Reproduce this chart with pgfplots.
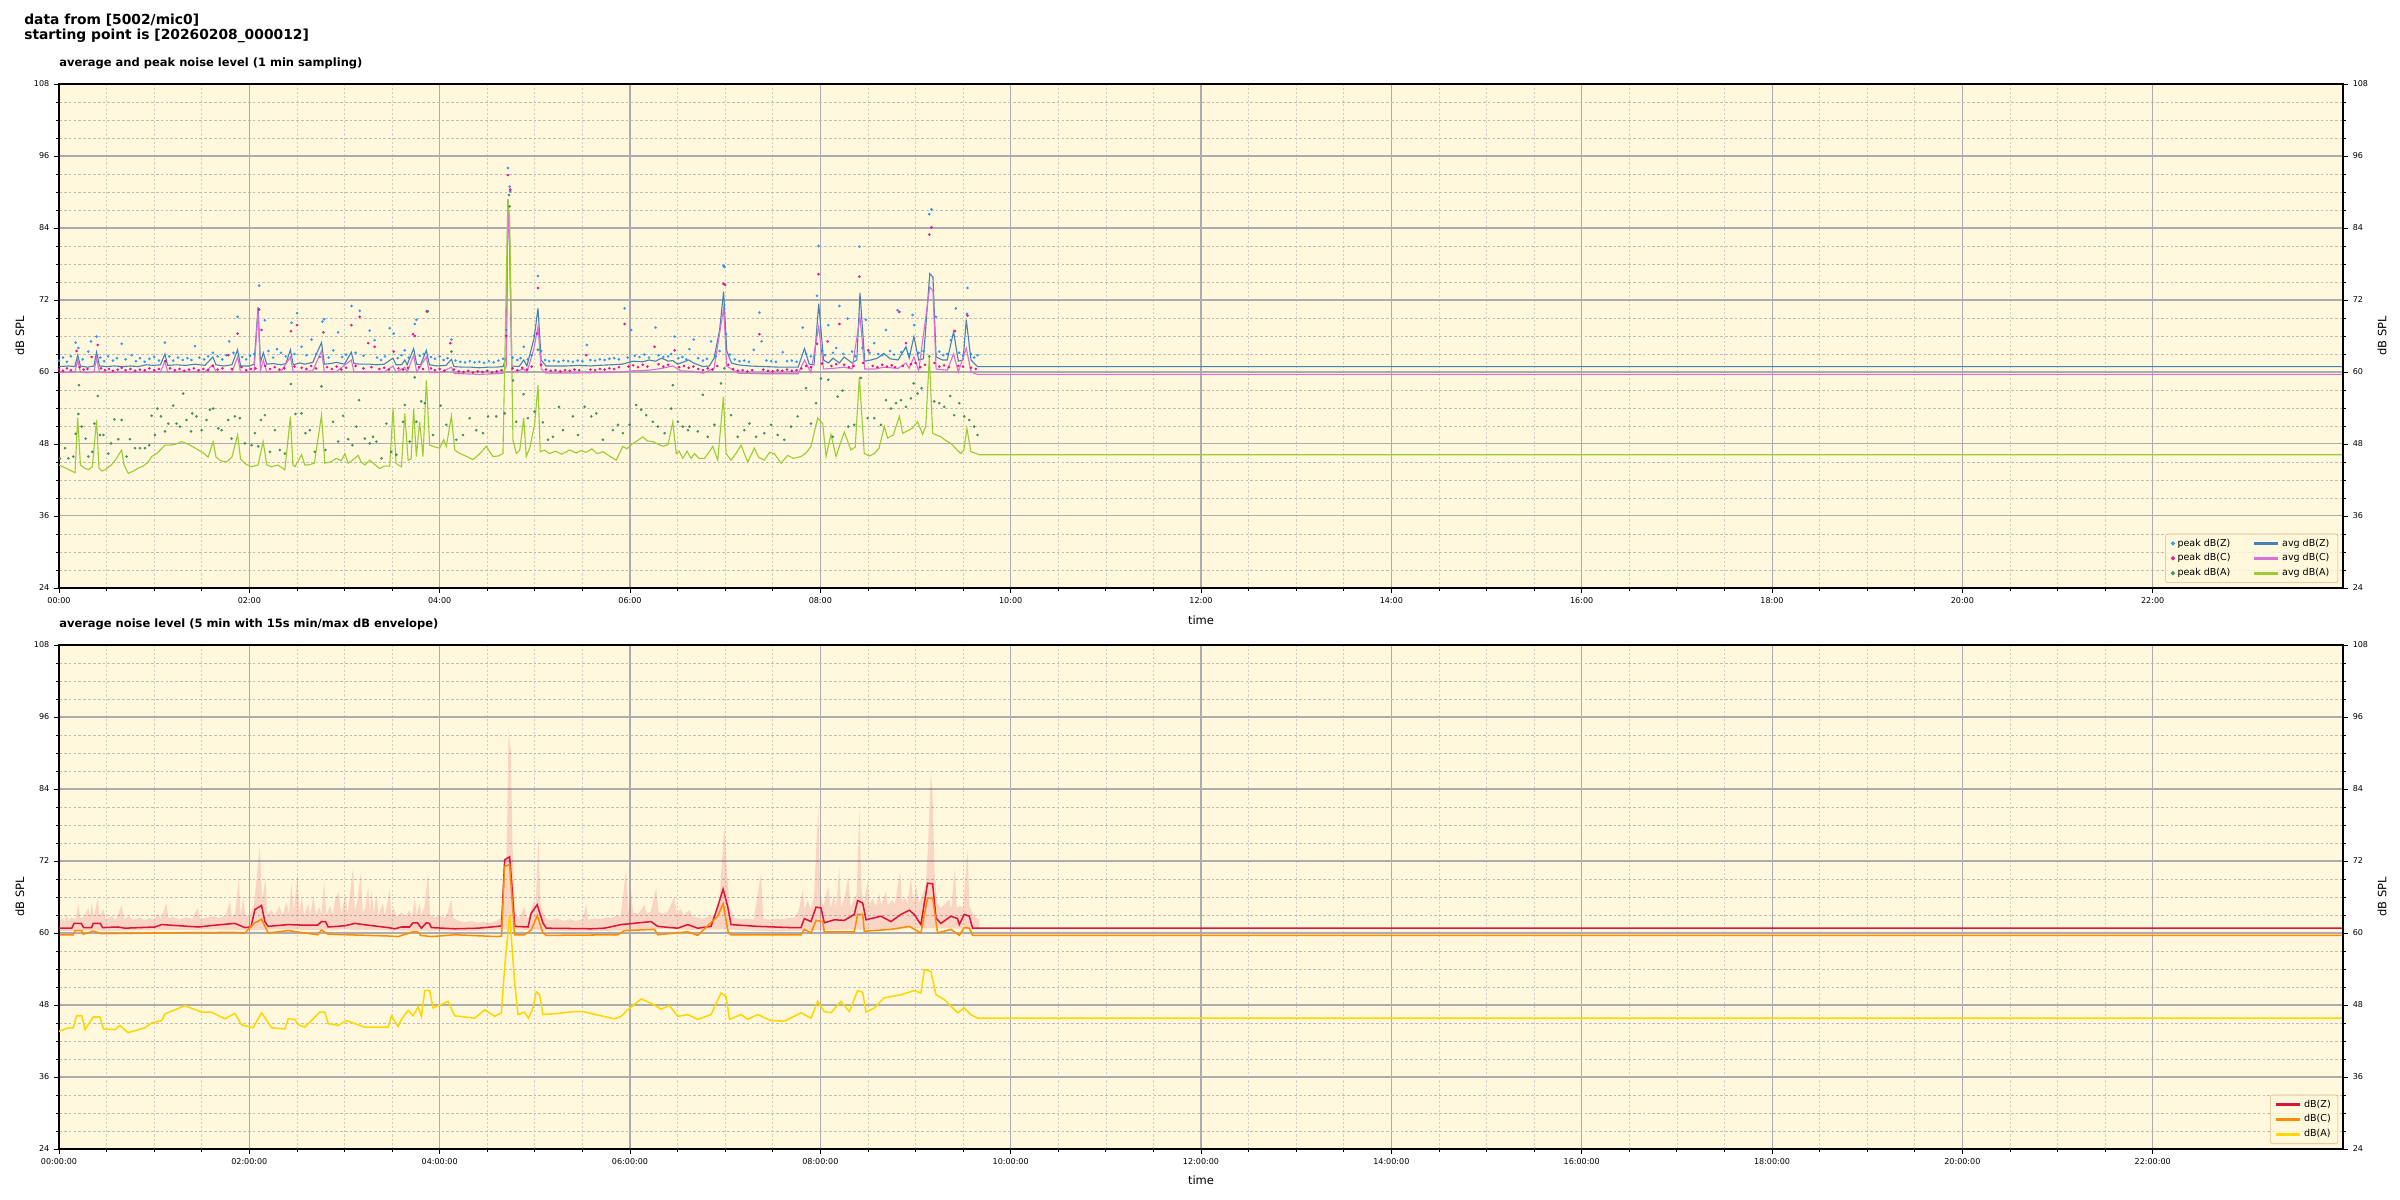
\documentclass[border=0pt]{standalone}
\usepackage{fontspec}
\setmainfont{DejaVu Sans}
\usepackage{pgfplots}
\pgfplotsset{compat=1.18}
\definecolor{cornsilk}{RGB}{255,248,220}
\definecolor{dodgerblue}{RGB}{30,144,255}
\definecolor{seagreen}{RGB}{46,139,87}
\definecolor{steelblue}{RGB}{70,130,180}
\definecolor{orchid}{RGB}{218,112,214}
\definecolor{yellowgreen}{RGB}{154,205,50}
\definecolor{crimson}{RGB}{220,20,60}
\definecolor{darkorange}{RGB}{255,140,0}
\definecolor{gold}{RGB}{255,215,0}
\definecolor{legedge}{RGB}{222,184,135}
\definecolor{gridmaj}{RGB}{172,172,176}
\definecolor{gridminy}{RGB}{188,188,188}
\definecolor{gridminx}{RGB}{208,206,196}
\pgfplotsset{
  base/.style={
    width=22.84in, height=5.04in, scale only axis,
    xmin=0, xmax=1440, ymin=24, ymax=108,
    xtick={0,120,...,1320},
    ytick={24,36,...,108},
    minor x tick num=3, minor y tick num=3,
    tick align=outside,
    major tick length=3.5pt, minor tick length=2pt,
    every tick/.style={black, line width=0.6pt},
    tick label style={font=\fontsize{5.8}{7}\selectfont},
    /pgf/number format/assume math mode=true,
    axis line style={line width=0.9pt},
    clip=true,
  },
  main/.style={base,
    xtick pos=left, ytick pos=left,
    axis background/.style={fill=cornsilk},
    grid=both,
    major grid style={color=gridmaj, line width=0.75pt, solid},
    minor x grid style={color=gridminx, line width=0.5pt, dash pattern=on 1.5pt off 1.5pt},
    minor y grid style={color=gridminy, line width=0.5pt, dash pattern=on 2pt off 1.5pt},
    ylabel={dB SPL}, xlabel={time},
    label style={font=\fontsize{8.3}{10}\selectfont},
    ylabel style={at={(axis description cs:-0.0171,0.5)}, anchor=center, rotate=0},
    title style={at={(axis description cs:0,1)}, anchor=base west, inner sep=0pt, yshift=6.8pt, font=\bfseries\fontsize{8.3}{10}\selectfont},
    legend cell align=left,
  },
  rightax/.style={base,
    axis y line*=right, hide x axis,
    ylabel={dB SPL},
    label style={font=\fontsize{8.3}{10}\selectfont},
    ylabel style={at={(axis description cs:1.0171,0.5)}, anchor=center},
  },
}
\begin{document}
\begin{tikzpicture}
\path[use as bounding box] (0,0) rectangle (24in,12in);
\node[anchor=base west, inner sep=0pt, font=\bfseries\fontsize{10}{12}\selectfont] at (0.24in,11.755in) {data from [5002/mic0]};
\node[anchor=base west, inner sep=0pt, font=\bfseries\fontsize{10}{12}\selectfont] at (0.24in,11.60in) {starting point is [20260208\_000012]};

% ---------------- TOP PANEL ----------------
\begin{axis}[main, at={(0.59in,11.16in)}, anchor=north west,
  title={average and peak noise level (1 min sampling)},
  xticklabels={00:00,02:00,04:00,06:00,08:00,10:00,12:00,14:00,16:00,18:00,20:00,22:00},
  xlabel style={at={(axis description cs:0.5,-0.0635)}, anchor=center},
  legend columns=2,
  legend style={at={(1,0)}, anchor=south east, xshift=-3.6pt, yshift=3.6pt,
    draw=legedge, fill=cornsilk, fill opacity=0.8, draw opacity=1, text opacity=1,
    rounded corners=1.5pt, font=\fontsize{6.9}{7.6}\selectfont, inner xsep=4pt, inner ysep=1.5pt,
    /tikz/every even column/.append style={column sep=14pt}},
]
% peak dB(Z)
\addplot[only marks, mark=*, mark size=0.75pt, color=dodgerblue, mark options={fill opacity=0.85, draw opacity=0.85}, forget plot] coordinates {
(0,61.9)(2.5,62.4)(5,61.7)(7.5,62.6)(10.5,64.9)(12.2,64.0)(15,62.1)(18.5,63.4)(20.2,65.1)(23.7,65.9)(26,62.4)(28.5,61.8)(31,62.6)(34,61.9)(36.5,62.3)(39.5,64.7)(42,62.1)(45.8,62.8)(48.5,61.8)(51,62.3)(54,61.7)(57,62.2)(60,62.5)(63,61.9)(66.8,64.9)(69.5,62.6)(72,61.9)(75,62.4)(78,62.0)(81,62.3)(83.5,62.0)(85.7,64.3)(88.5,62.4)(91.5,62.1)(94,62.6)(97,63.2)(100,62.6)(103,62.1)(105.5,62.8)(107.3,65.1)(110,63.2)(112.6,69.2)(115.5,62.5)(118,62.1)(120.5,62.7)(123,63.0)(126.2,74.4)(129.8,68.6)(132,63.5)(135,62.4)(137.5,63.8)(140,63.2)(143,62.6)(146.6,68.2)(148.5,63.0)(150.1,69.8)(152.9,64.2)(156,62.8)(159.2,65.4)(162,63.0)(164.5,62.5)(166.1,68.4)(167.2,68.8)(170,62.4)(173,63.6)(176,66.6)(178.5,62.5)(181,62.9)(184.4,71.0)(187,63.2)(189.6,70.2)(192,62.7)(195.9,66.9)(199,65.3)(200.5,62.4)(203,62.0)(205.5,62.6)(208.5,67.3)(211,66.4)(213.5,62.3)(216,62.8)(218,63.6)(220.5,62.4)(224.3,68.0)(225.3,68.7)(227.5,62.7)(230,63.0)(232,70.1)(234.5,62.5)(237,62.2)(240,62.6)(242.5,62.0)(245,62.3)(247.4,65.4)(250,61.9)(253,61.7)(256,61.6)(259,61.8)(262,61.6)(265,61.7)(268,61.5)(271,61.8)(274,61.6)(277,61.9)(280,62.2)(282,67.0)(283,94.0)(284.1,90.9)(284.5,90.1)(286,62.4)(289,62.0)(291,62.3)(293,64.2)(295.5,62.1)(298,62.8)(299.5,66.0)(302,76.0)(304,63.5)(306.5,62.0)(309,61.8)(312,61.9)(315,61.7)(318,61.9)(321,61.8)(324,61.7)(327,61.9)(330,61.8)(332.8,64.5)(335,62.0)(338,61.9)(341,62.1)(344,62.0)(347,62.2)(350,62.3)(353,62.1)(356.6,70.6)(358.5,62.4)(360.8,67.0)(363,62.7)(366,62.5)(369,62.9)(372,62.4)(376.1,67.4)(378,62.8)(381,62.5)(384,62.6)(386,63.0)(388.1,65.9)(390.5,62.3)(393,62.5)(395.5,62.1)(397.5,63.8)(400.2,65.4)(403,62.3)(406,61.9)(408.5,62.2)(411.1,65.1)(414,62.6)(416.5,63.5)(418.9,77.7)(419.5,77.5)(420.6,66.3)(423,62.9)(426,62.1)(429,61.8)(432,61.9)(435,61.7)(438,63.7)(441.6,69.9)(443,65.1)(446,61.9)(449,61.8)(452,61.7)(456.3,63.3)(459,61.8)(462,61.9)(465,61.7)(468.9,67.4)(471,63.0)(474,62.6)(477.9,72.7)(478.9,81.0)(481,63.5)(483,62.8)(485,67.8)(488,63.2)(490,64.0)(492,71.0)(494.5,63.0)(497.2,68.9)(500,63.4)(502,62.6)(504.6,80.9)(506.5,64.0)(508.7,68.7)(511,63.2)(514,64.8)(516.5,63.0)(519,62.8)(521.3,67.0)(524,63.5)(526.5,62.9)(528.7,70.3)(531,63.3)(534,64.0)(536,63.0)(538.2,69.5)(539.2,67.8)(542,63.2)(545,63.5)(548.7,86.3)(550.1,87.1)(552.9,69.2)(555,63.4)(557.5,62.8)(560,63.0)(562.3,65.3)(565.4,70.6)(567.5,63.2)(570,62.7)(572.4,69.7)(572.8,74.0)(575,63.0)(577,62.4)(579.1,62.8)
};
% peak dB(C)
\addplot[only marks, mark=*, mark size=0.75pt, color=magenta, mark options={fill opacity=0.85, draw opacity=0.85}, forget plot] coordinates {
(0,60.4)(2.5,60.2)(5,60.6)(7.5,60.3)(11.1,63.5)(13,60.8)(15.5,60.4)(18,60.5)(20.6,62.5)(24.4,64.5)(26.5,60.6)(29,60.3)(31.5,60.5)(34,60.2)(37,60.4)(39.5,60.7)(42,60.3)(45,60.5)(48,60.2)(51,60.4)(54,60.3)(57,60.6)(60,60.3)(63,60.5)(67,61.8)(70,60.6)(73,60.3)(76,60.5)(79,60.2)(82,60.4)(85,60.6)(88,60.3)(91,60.5)(94,60.3)(97,61.0)(100,60.4)(103,60.6)(106.7,62.8)(109,60.5)(112.6,66.4)(115,60.8)(118,60.3)(121,60.5)(124,60.6)(126.2,70.4)(127.7,67.0)(130,61.0)(133,60.5)(136,60.8)(139,60.4)(142,60.6)(146.2,66.8)(148.5,60.9)(150.1,67.8)(153,60.7)(156,60.5)(159,61.0)(162,60.6)(166.7,66.6)(169,60.8)(172,60.5)(175,60.9)(178,60.4)(181,60.7)(184.4,67.8)(187,61.0)(189.6,69.2)(192,60.6)(194.9,64.8)(197,60.8)(199,64.2)(202,60.5)(205,60.7)(208,60.4)(211,63.4)(214,60.6)(217,60.4)(220,60.7)(223.2,66.3)(224.3,66.0)(227,60.8)(229.5,60.5)(232,70.1)(234.5,60.6)(237,60.3)(240,60.5)(243,60.2)(246.7,64.8)(249,60.4)(252,60.1)(255,60.0)(258,60.2)(261,59.9)(264,60.1)(267,60.0)(270,60.2)(273,59.9)(276,60.1)(279,60.3)(282,66.0)(283,92.8)(284.5,90.4)(286,60.6)(289,60.3)(292,60.7)(295,60.4)(298,60.9)(301.3,66.4)(302,74.0)(304,61.2)(307,60.4)(310,60.2)(313,60.3)(316,60.1)(319,60.3)(322,60.2)(325,60.4)(328,60.3)(332.4,62.8)(335,60.4)(338,60.3)(341,60.5)(344,60.4)(347,60.6)(350,60.5)(353,60.8)(356.6,68.0)(359,60.9)(362,61.1)(365,60.8)(368,61.2)(371,60.9)(375.5,64.2)(378,61.3)(381,60.9)(384,61.2)(388.1,63.6)(391,60.8)(394,61.0)(397,60.7)(400,60.9)(403,60.5)(406,60.3)(409,60.6)(412,60.4)(415,61.0)(418.9,74.7)(420,74.5)(422,61.2)(425,60.5)(428,60.2)(431,60.3)(434,60.1)(437,60.3)(441.6,66.3)(444,60.4)(447,60.2)(450,60.1)(453,60.3)(456,60.2)(459,60.4)(462,60.2)(465,60.3)(468,60.6)(471,61.0)(474,60.8)(477.9,64.7)(478.9,76.3)(481,61.4)(484.6,65.1)(487,61.0)(490,61.3)(492,68.0)(495,61.2)(498,60.8)(501,61.0)(504.6,75.9)(507,61.5)(510.2,63.6)(513,61.0)(516,60.8)(519,61.2)(522,60.9)(525,61.1)(527,60.8)(529.8,70.0)(532,61.0)(534,64.8)(537,61.3)(540,61.5)(543,60.8)(546,61.2)(548.7,82.9)(550.1,84.1)(552,61.5)(555,60.9)(558,61.1)(561,60.8)(564.9,66.8)(567,61.0)(570,60.9)(572.8,69.4)(575,60.7)(578,60.5)
};
% peak dB(A)
\addplot[only marks, mark=*, mark size=0.75pt, color=seagreen, mark options={fill opacity=0.85, draw opacity=0.85}, forget plot] coordinates {
(0.6,45.6)(3.8,47.3)(5.9,45.6)(9,45.9)(10.5,49.7)(12.2,53.0)(12.6,57.8)(14.3,50.9)(16.8,48.9)(18.5,45.9)(21,46.7)(22.3,51.4)(24.4,56.0)(25.8,49.5)(28,49.5)(31.1,46.4)(32.8,48.1)(34.9,52.1)(37.4,48.8)(39.5,52.0)(42.6,45.9)(44.7,48.8)(47.9,47.3)(51,47.3)(54.2,47.3)(56.9,47.8)(58.4,52.7)(60.5,49.5)(62,53.9)(64.3,52.6)(66.8,50.1)(68.9,51.4)(72,54.4)(74.1,51.4)(76.2,50.9)(78.3,56.4)(80.4,52.0)(83.2,50.1)(84,53.1)(86.7,52.6)(89.9,50.3)(93,52.0)(95.1,53.7)(97.2,53.9)(100.4,50.6)(102.5,50.3)(106.7,52.0)(108.8,48.9)(110.9,52.6)(114,52.3)(117.2,48.1)(121.4,47.8)(123.5,49.8)(125.6,47.6)(127.3,52.0)(129.8,52.8)(133,46.7)(136.1,50.3)(139.2,47.0)(142.4,46.4)(146.2,58.0)(149.1,53.0)(152.9,53.1)(155.4,49.8)(158.1,50.3)(161.3,46.7)(165.5,57.6)(168,47.0)(172.8,51.7)(176,48.4)(179.1,52.7)(182.3,48.8)(185,47.8)(187.5,50.9)(189.2,55.3)(192.8,48.9)(195.9,48.1)
(198,49.2)(200.1,48.4)(203.3,45.6)(206.4,51.4)(209.5,46.7)(212.7,46.2)(216.9,51.7)(218,54.5)(221.1,48.4)(224.3,59.1)(225.3,51.7)(228.4,55.1)(230.6,54.8)(232.6,70.1)(235.8,49.5)(240.6,54.4)(244.2,51.2)(247.4,63.4)(250.5,48.7)(254.7,49.5)(258.9,52.3)(263.1,50.3)(267.3,49.8)(270.5,52.6)(275.7,52.6)(281,53.1)(283.7,89.5)(284.1,87.6)(286.2,58.6)(288.3,51.7)(292.9,56.3)(295.6,52.3)(299.8,53.4)(301.9,63.7)(305.1,51.6)(308.3,48.7)(311.4,49.2)(315.2,54.2)(317.7,50.3)(324,52.6)(327.2,49.5)(331.4,54.2)(335.6,52.6)(338.7,53.1)(342.9,48.7)(349.2,50.3)(352.4,51.2)(355.5,49.8)(359.7,51.2)(363.9,54.5)(367,53.7)(370.2,52.8)(374.4,51.7)(377.6,50.9)(381.8,49.8)(386,53.9)(387,57.8)(390.2,51.7)(393.3,50.9)(396.5,50.3)
(397.5,50.9)(402.7,50.1)(405.9,56.2)(409,49.2)(413.2,51.2)(417.4,58.1)(419.5,60.6)(423.7,52.8)(427.9,49.2)(432.1,50.3)(435.3,51.4)(439.5,49.2)(444.7,49.8)(448.9,51.2)(453.1,49.5)(457.3,48.7)(461.5,50.9)(465.7,52.6)(471,57.3)(474.1,51.4)(477.3,54.8)(480.4,58.9)(485,58.7)(487.8,49.2)(490.9,55.9)(494,56.9)(497.6,50.9)(501.4,51.2)(505.6,59.0)(509.8,52.3)(514,52.3)(518.2,51.2)(521.4,55.3)(524.5,53.9)(527.7,54.8)(530.8,55.3)(534,54.2)(537.1,55.6)(538.8,58.1)(541.3,56.4)(543.8,57.3)(548.7,62.6)(551.8,55.1)(555,54.8)(558.1,54.2)(561.9,56.0)(564.4,52.8)(567.6,54.8)(570.7,52.6)(573.9,52.0)(577,50.9)(579.1,49.5)
};
% avg dB(Z)
\addplot[color=steelblue, line width=0.8pt, forget plot] coordinates {
(0,60.9)(6,61.0)(10,60.9)(11.8,62.8)(13.5,61.0)(18,60.8)(22,61.0)(23.7,63.3)(25.5,61.0)(30,60.9)(35,61.0)(40,60.9)(45,61.0)(50,60.9)(55,61.2)(60,61.1)(64,61.2)(66.8,63.0)(68.5,61.1)(74,61.2)(80,61.1)(86,61.3)(92,61.1)(97,62.5)(99,61.2)(104,61.0)(109,61.2)(112.6,63.7)(114.5,61.0)(120,61.0)(123,61.3)(125.5,70.8)(127,61.6)(128.8,63.2)(131,61.3)(135,61.4)(140,61.2)(143,61.4)(145.9,63.7)(147.7,61.2)(152,61.5)(155,61.3)(160,61.6)(165.5,64.9)(167.3,61.3)(171,61.4)(175,61.6)(180,61.3)(184.3,63.3)(186,61.4)(190,61.3)(196,61.3)(200,61.2)(205,61.3)(210.6,62.3)(212.5,61.2)(216,61.2)(218,62.0)(219.5,61.2)(223.6,63.9)(225.5,61.3)(228,61.2)(231.6,63.6)(233.5,61.2)(238,61.0)(244,61.1)(247.4,62.1)(249,60.9)(255,60.8)(260,60.8)(265,60.7)(270,60.8)(275,60.8)(280,60.9)(282,62.5)(283,88.8)(284.1,82.0)(285.5,61.0)(290,60.9)(293,62.0)(295,61.0)(299.5,65.6)(302,70.6)(304,62.0)(307,61.0)(312,61.0)(320,61.0)(328,61.1)(335,61.0)(340,61.1)(348,61.2)(355,61.3)(362,61.8)(368,61.7)(372,62.0)(376,61.8)(380,62.3)(384,61.8)(387,61.9)(390,61.3)(394,61.7)(397,62.0)(400,61.5)(406,60.9)(410,61.0)(413,62.3)(416.5,67.0)(419,73.4)(421,63.5)(424,61.5)(428,61.2)(435,61.0)(445,60.9)(455,60.8)(466,60.8)(470,63.9)(473,61.3)(476,61.2)(479,71.4)(482,62.0)(485,61.5)(488,62.3)(492,61.5)(495,62.5)(500,61.5)(503,62.0)(505,73.2)(508,61.8)(512,62.0)(516,62.3)(520,63.1)(524,62.2)(529,62.0)(534,64.2)(536,62.3)(539,65.9)(542,62.0)(545,62.2)(549,76.4)(551,75.8)(553,62.5)(557,62.0)(560,62.0)(564,66.7)(567,61.8)(570,62.0)(572,68.7)(575,62.0)(579,60.9)(1440,60.9)
};
% avg dB(C)
\addplot[color=orchid, line width=0.8pt, forget plot] coordinates {
(0,59.9)(6,60.0)(10,60.0)(11.8,62.0)(13.5,60.0)(18,59.9)(22,60.0)(23.7,62.3)(25.5,60.0)(30,59.9)(40,60.0)(45,59.9)(55,60.0)(64,60.0)(66.8,61.8)(68.5,60.0)(80,60.1)(92,60.0)(97,61.2)(99,60.0)(109,60.0)(112.6,62.5)(114.5,59.9)(120,60.0)(123,60.1)(125.5,70.3)(127,60.2)(128.8,62.0)(131,60.0)(140,60.1)(145.9,62.5)(147.7,60.0)(155,60.1)(160,60.2)(165.5,63.5)(167.3,60.0)(175,60.1)(184.3,62.0)(186,60.0)(196,60.0)(205,60.0)(210.6,61.0)(212.5,59.9)(218,60.8)(219.5,60.0)(223.6,62.8)(225.5,60.0)(231.6,62.5)(233.5,59.9)(240,59.9)(247.4,60.8)(249,59.8)(255,59.7)(265,59.6)(275,59.7)(280,59.8)(282,61.0)(283,88.1)(284.1,81.0)(285.5,59.9)(293,60.5)(295,59.9)(299.5,64.0)(302,67.6)(304,60.5)(307,59.8)(320,59.8)(340,59.9)(355,60.0)(362,60.2)(372,60.3)(380,60.6)(387,61.0)(392,60.2)(400,60.1)(406,59.8)(413,60.6)(419,70.6)(421,61.0)(428,59.8)(445,59.7)(466,59.7)(470,62.0)(474,59.9)(479,67.6)(482,60.5)(488,60.6)(495,60.8)(500,60.5)(505,69.2)(508,60.5)(515,60.5)(520,60.8)(529,60.6)(534,61.5)(536,60.6)(539,62.5)(542,60.2)(549,74.2)(551,73.5)(553,60.5)(560,60.3)(564,63.0)(567,60.0)(572,64.0)(575,60.0)(579,59.6)(1440,59.6)
};
% avg dB(A)
\addplot[color=yellowgreen, line width=0.8pt, forget plot] coordinates {
(0,44.5)(4,44.0)(8,43.5)(10.1,43.2)(11.8,52.4)(13.5,44.5)(16,44.0)(18.5,43.7)(21,44.2)(23.7,52.0)(25.2,44.0)(27,43.5)(29,43.7)(33,44.5)(36,45.5)(39.5,47.0)(41,44.5)(43.7,43.1)(47,43.5)(50,44.0)(53,44.3)(56.3,45.0)(58.4,45.9)(62,46.5)(66.8,47.8)(70,47.8)(74,48.0)(77.3,48.4)(81,48.0)(84,47.6)(87.8,47.0)(91,46.5)(94,45.8)(97.2,48.4)(99,45.8)(102,45.2)(105.6,45.0)(109,45.8)(112.6,49.5)(114.5,45.5)(118,44.6)(121.3,44.2)(125.5,44.5)(128.7,48.4)(131,44.5)(134,44.2)(138,44.5)(142.4,43.7)(145.9,52.6)(147.5,44.5)(148.7,44.2)(150.5,45.0)(152.9,46.2)(155,44.5)(157.1,44.5)(161,44.8)(165.5,52.8)(167.6,44.8)(171,45.0)(175,45.6)(178,45.2)(180.2,46.4)(182.3,44.8)(185,45.3)(188.6,46.1)(190.5,45.0)(192.8,44.5)(195.9,45.3)(199,44.6)(202.2,43.9)(205,44.3)(208.5,44.3)(210.6,53.9)(212.5,44.8)(213.8,44.5)(215.9,44.2)(218,53.1)(220.1,45.3)(222,45.5)(223.6,53.8)(225.3,45.9)(227.4,51.7)(229.5,45.9)(231.6,58.6)(233.7,47.8)(237,47.5)(240,47.3)(242.5,48.7)(244.2,47.6)(247.4,52.7)(249.5,47.0)(252,46.5)(254.7,46.2)(258,45.8)(261,45.4)(265,46.3)(269.4,47.6)(273.6,45.9)(277,46.0)(279.9,46.4)(282,74.8)(283,88.7)(284.1,85.9)(286.2,48.7)(288.3,46.4)(290.5,47.0)(293,52.3)(294.6,45.9)(297,47.5)(299.9,51.4)(302,57.8)(303.4,46.7)(306,47.0)(309.3,46.4)(313,46.8)(317,46.3)(321.9,47.0)(326,46.5)(329,46.9)(332.4,46.6)(336,47.2)(339,46.4)(342.9,46.7)(347,46.0)(351.3,45.3)(355.5,47.6)(358,47.2)(361.8,48.1)(365,48.6)(368.1,49.2)(371,48.5)(374.4,48.4)(377.5,48.0)(380.7,47.6)(384,47.9)(387,51.7)(389.1,46.4)(391,46.8)(393.3,45.6)(396,46.8)(398.5,45.6)(400.6,46.4)(403.5,45.6)(406.9,45.6)(409.5,46.5)(412.2,47.6)(415.3,45.3)(418.9,55.9)(420.6,46.4)(423.7,45.3)(427,46.5)(430,47.8)(434.2,45.0)(438.4,47.3)(441,45.8)(444.7,45.3)(448,46.6)(451,46.4)(455.2,44.8)(459.4,46.1)(463,45.6)(467.8,45.9)(471,46.5)(474.1,47.6)(478.3,52.3)(481.5,51.4)(483.6,45.9)(486.7,49.6)(489.9,45.9)(492.5,48.0)(495.1,50.0)(499.3,47.0)(502,47.5)(504.6,59.2)(507.7,46.4)(511,46.0)(514,46.4)(517,47.3)(520.3,50.9)(522.4,49.0)(526,49.5)(529.8,52.6)(531.9,49.8)(535,50.2)(538,50.6)(541.3,51.7)(544.5,49.6)(546.5,51.0)(548.7,62.6)(550.8,49.8)(553,49.5)(556,49.2)(559,48.6)(562.3,48.1)(565.5,47.2)(568.6,46.4)(570.5,47.0)(572.4,50.6)(574.9,46.7)(577.5,46.5)(580.2,46.2)(1440,46.2)
};
\addlegendimage{only marks, mark=*, mark size=1.3pt, color=dodgerblue}
\addlegendentry{peak dB(Z)}
\addlegendimage{color=steelblue, line width=2.2pt}
\addlegendentry{avg dB(Z)}
\addlegendimage{only marks, mark=*, mark size=1.3pt, color=magenta}
\addlegendentry{peak dB(C)}
\addlegendimage{color=orchid, line width=2.2pt}
\addlegendentry{avg dB(C)}
\addlegendimage{only marks, mark=*, mark size=1.3pt, color=seagreen}
\addlegendentry{peak dB(A)}
\addlegendimage{color=yellowgreen, line width=2.2pt}
\addlegendentry{avg dB(A)}
\end{axis}
\begin{axis}[rightax, at={(0.59in,11.16in)}, anchor=north west]
\addplot[draw=none, forget plot] coordinates {(0,60)};
\end{axis}

% ---------------- BOTTOM PANEL ----------------
\begin{axis}[main, at={(0.59in,5.55in)}, anchor=north west,
  title={average noise level (5 min with 15s min/max dB envelope)},
  xticklabels={00:00:00,02:00:00,04:00:00,06:00:00,08:00:00,10:00:00,12:00:00,14:00:00,16:00:00,18:00:00,20:00:00,22:00:00},
  xlabel style={at={(axis description cs:0.5,-0.061)}, anchor=center},
  legend style={at={(1,0)}, anchor=south east, xshift=-3.6pt, yshift=3.6pt,
    draw=legedge, fill=cornsilk, fill opacity=0.8, draw opacity=1, text opacity=1,
    rounded corners=1.5pt, font=\fontsize{6.9}{7.6}\selectfont, inner xsep=3pt, inner ysep=1.5pt},
]
% envelope (max forward, min backward)
\addplot[fill=crimson, fill opacity=0.15, draw=none, forget plot] coordinates {
(0,61.8)(2,62.5)(3.5,61.9)(4.8,63.0)(6,62.0)(8,62.6)(10.5,62.3)(12.2,64.9)(13.5,62.4)(16,62.8)(18.5,64.2)(19.5,62.6)(20.6,65.0)(22,62.5)(24.4,65.9)(25.5,62.6)(28,64.0)(29.5,62.3)(33,62.8)(36,62.2)(39.5,64.7)(41,62.3)(44,62.8)(47,62.2)(51,62.6)(54,62.1)(57,62.5)(60,62.3)(62.5,63.2)(64,62.4)(67.8,64.9)(69,62.5)(72,62.7)(76,62.2)(80,62.6)(84,62.4)(87.4,64.2)(89,62.4)(93,62.6)(97,62.8)(101,62.5)(105,62.9)(107.7,65.3)(109,62.7)(111,63.2)(113.4,69.2)(114.5,63.0)(116.1,65.8)(117.5,63.0)(120,62.8)(123,64.8)(126.6,74.4)(128,65.5)(130.2,68.9)(131.5,63.2)(134,63.8)(136,62.9)(139,64.5)(141,63.0)(143.5,65.2)(145,63.2)(146.6,68.3)(148,63.4)(150.4,69.9)(151.5,63.2)(153,66.0)(154.5,63.0)(157,64.8)(158.5,63.1)(160.5,66.2)(162,63.0)(164,64.3)(165.5,63.2)(167.2,68.7)(168.5,63.0)(171,64.5)(172.5,63.0)(174.5,66.0)(176.4,66.7)(178,63.1)(180.5,66.5)(182,63.2)(185.4,71.0)(186.5,63.5)(188,65.2)(190.3,70.1)(191.5,63.4)(193,64.0)(194.9,67.7)(196,63.5)(197,67.0)(198.5,63.3)(200.1,66.4)(201.5,63.0)(204.3,65.0)(205.5,62.8)(208.5,67.3)(209.5,63.0)(211,64.2)(213,62.7)(216,63.5)(218,62.6)(221,63.8)(222.5,62.8)(224.3,65.6)(225.5,63.0)(227.4,64.9)(228.5,63.0)(230.5,64.5)(232.7,70.3)(234,63.0)(237,62.6)(240,63.0)(243,62.5)(245,63.4)(247.4,65.6)(248.5,62.5)(252,62.0)(256,61.8)(260,62.0)(264,61.7)(268,61.9)(272,61.7)(276,62.0)(280,62.8)(282,70.0)(283.5,94.2)(284.2,91.5)(284.8,90.6)(286,74.0)(287.5,63.5)(290,62.4)(293.6,64.4)(295,62.3)(297,63.0)(299,65.2)(300.5,64.5)(302.3,76.1)(303.5,65.0)(305,63.5)(307,62.4)(310,62.1)(314,62.4)(318,62.0)(322,62.3)(326,62.0)(330,62.3)(332.4,64.7)(333.5,62.2)(337,62.4)(341,62.3)(345,62.6)(349,62.5)(352,63.0)(354,62.7)(357.6,70.6)(359,63.2)(360.7,66.9)(362,63.4)(365,63.2)(367,63.8)(369.1,64.7)(370.5,63.2)(373,63.5)(376.5,67.5)(378,63.5)(381,63.2)(384,63.6)(388,66.1)(389.5,63.2)(392,64.0)(394,63.0)(397.5,63.9)(399,62.8)(402,62.6)(406,62.4)(410,62.8)(414,63.0)(416.5,66.0)(419.5,77.8)(421,70.5)(423,64.0)(426,62.5)(430,62.3)(434,62.4)(438,62.2)(442.6,69.9)(444,62.4)(448,62.2)(452,62.4)(456,62.3)(460,62.5)(464,62.6)(466.5,63.8)(468.9,67.2)(470,64.0)(472,65.5)(474,64.0)(476,66.0)(478.7,81.1)(480,66.2)(482,64.5)(485,67.8)(486.5,64.0)(488.5,66.5)(490,64.2)(491.9,70.8)(493,64.3)(495,65.5)(497.6,69.4)(499,64.3)(501.5,65.8)(503,66.5)(504.6,80.7)(506,67.0)(507.5,65.0)(509.8,68.6)(511,64.8)(513,65.8)(515,64.5)(517,66.5)(518.5,64.6)(521.3,66.9)(522.5,64.5)(525,65.5)(527,64.8)(530.4,70.3)(531.5,65.0)(533,66.0)(535,64.8)(537.1,69.4)(538.5,65.0)(540.5,68.0)(542,65.0)(544,66.0)(546.5,68.0)(548,75.0)(549.7,87.1)(550.8,82.8)(552,70.0)(553.5,65.0)(556,64.2)(558.5,64.8)(561.2,65.6)(562.5,64.0)(564.8,70.8)(566,64.2)(568,64.5)(570,64.2)(572.8,73.9)(574,64.5)(576,63.3)(578,62.6)(580.2,62.2)
(580.2,60.6)(560,60.8)(540,60.8)(520,60.6)(500,60.6)(480,60.5)(460,60.3)(440,60.4)(420,60.6)(400,60.5)(380,60.7)(360,60.5)(340,60.3)(320,60.3)(300,60.5)(280,60.6)(260,60.3)(240,60.4)(220,60.4)(200,60.5)(180,60.6)(160,60.5)(140,60.6)(120,60.5)(100,60.6)(80,60.5)(60,60.5)(40,60.4)(20,60.4)(0,60.3)
};
% dB(Z)
\addplot[color=crimson, line width=1.1pt, forget plot] coordinates {
(0,60.8)(8,60.8)(9.5,61.6)(14,61.6)(15.5,60.9)(20.5,60.9)(21.6,61.6)(26,61.6)(27.5,60.9)(37,61.0)(41.6,60.8)(60.5,61.0)(64.7,61.4)(87.8,61.0)(98.3,61.3)(110.9,61.6)(117.2,60.9)(121,61.0)(123.5,63.9)(127.7,64.6)(129.8,61.9)(131.9,61.1)(144.5,61.4)(155,61.3)(163,61.3)(165.5,61.9)(168,61.9)(169.7,61.0)(180.2,61.2)(186.5,61.6)(194.9,61.3)(207.5,60.9)(211.7,60.7)(215.9,61.0)(221,61.0)(223.2,61.7)(226,61.7)(228.5,60.8)(231.6,61.7)(233.5,61.6)(234.8,60.9)(249.5,60.7)(264.2,60.8)(276.8,61.1)(279,61.2)(281,72.2)(284.1,72.7)(285.5,68.0)(287.3,61.1)(295.7,61.0)(297.7,63.3)(301.5,64.7)(303.5,63.0)(305.1,61.7)(307.2,60.8)(335.5,60.7)(343.9,60.8)(354.4,61.4)(373.3,61.9)(377.5,61.1)(390.1,60.8)(396.4,61.4)(402.7,60.8)(411.1,61.1)(415.3,64.4)(418.7,67.3)(421.6,64.4)(423.7,61.4)(440.5,61.1)(461.5,60.9)(467.8,60.9)(469.9,62.4)(474.1,61.9)(477.3,64.3)(480.4,64.2)(482.5,61.7)(488.8,62.2)(495.1,62.1)(501.4,63.1)(503.5,65.4)(506.7,65.0)(508.8,62.2)(518.2,62.8)(524.5,61.9)(530.8,63.1)(536.1,63.8)(539.2,63.1)(543.4,61.4)(547.6,68.3)(550.8,68.2)(552.9,62.5)(556,61.6)(562.3,62.8)(566.5,62.4)(567.6,61.4)(570.7,63.1)(573.9,62.8)(576,60.8)(1440,60.8)
};
% dB(C)
\addplot[color=darkorange, line width=1.1pt, forget plot] coordinates {
(0.6,59.7)(9,59.7)(10.1,60.4)(14.3,60.4)(15.3,59.8)(21.6,60.3)(26.9,59.9)(60,60.0)(110,60.1)(117.2,60.0)(123.5,61.7)(127.7,62.3)(131.9,60.0)(144.5,60.4)(163,59.7)(165.5,60.5)(169.7,59.8)(207.5,59.5)(213.8,59.4)(223.2,60.2)(226,60.2)(228,59.6)(234.8,59.4)(249.5,59.7)(276.8,59.4)(279,59.5)(281,71.1)(284.1,71.4)(285.5,66.0)(287.3,59.7)(293.5,59.7)(297.7,60.5)(301.5,62.9)(305.1,60.0)(307.2,59.6)(352.3,59.7)(356.5,60.4)(375.4,60.6)(377.5,59.7)(396.4,60.2)(402.7,59.6)(415.3,62.8)(418.7,64.9)(422,60.0)(423.7,59.7)(467.8,59.7)(469.9,60.6)(474.1,60.0)(477.3,62.1)(481.5,61.9)(482.5,60.2)(501.4,60.2)(503.5,63.1)(506.7,63.1)(507.7,60.3)(524.5,60.6)(536.1,61.1)(541.3,60.3)(543.4,60.0)(547.6,65.8)(550.8,65.8)(553.9,60.0)(562.3,60.6)(567.6,59.6)(570.7,60.9)(573.9,60.8)(576,59.6)(1440,59.6)
};
% dB(A)
\addplot[color=gold, line width=1.1pt, forget plot] coordinates {
(0,43.6)(5.9,44.2)(9,44.2)(11.1,46.2)(14.3,46.2)(16.4,43.9)(21.6,46.0)(25.8,46.0)(28,44.0)(35.3,43.9)(38.4,44.6)(42.6,43.6)(43.7,43.4)(54.2,44.2)(58.4,45.0)(64.7,45.4)(66.8,46.5)(73.1,47.2)(79.4,47.9)(89.9,46.8)(96.2,46.8)(104.6,45.7)(110.9,46.6)(115.1,44.7)(122.4,44.2)(127.7,46.7)(134,44.2)(142.4,44.0)(144.5,45.7)(148.7,45.6)(150.8,44.7)(155,44.3)(164.4,46.8)(167.6,46.8)(169.7,44.9)(176,44.6)(181.2,45.4)(186.5,44.9)(192.8,44.3)(207.5,44.3)(209.6,46.2)(213.8,44.4)(215.9,45.6)(220.1,47.1)(223.2,46.2)(226.4,47.7)(228.5,46.1)(230.6,50.4)(233.7,50.4)(235.8,47.5)(245.3,48.6)(249.5,46.2)(262.1,45.8)(268.4,47.2)(274.7,46.1)(278.9,46.7)(281,54.4)(284.1,63.1)(287.3,51.7)(289.4,46.4)(293.5,46.8)(296,45.8)(298.8,47.5)(300.9,50.2)(303,49.7)(305.1,46.4)(314.5,46.6)(325,46.9)(330.3,46.9)(341.8,46.2)(350.2,45.7)(354.4,46.1)(358.6,47.2)(367,49.0)(373.3,48.3)(379.6,47.3)(384.9,47.9)(390.1,46.1)(396.4,46.4)(402.7,45.6)(411.1,46.4)(417.4,50.0)(420.6,49.4)(422.7,45.6)(430,46.4)(434.2,45.6)(440.5,46.4)(448.9,45.4)(457.3,45.3)(467.8,46.7)(474.1,45.8)(478.3,48.6)(482.5,46.9)(486.7,46.7)(493,48.6)(498.3,46.9)(503.5,50.4)(506.7,50.1)(508.8,46.8)(514,47.5)(520.3,49.2)(530.8,49.7)(539.2,50.4)(543.4,50.0)(545.6,53.9)(549.7,53.6)(552.9,49.7)(558.1,48.9)(566.5,46.7)(570.7,47.5)(574.9,46.4)(579.1,45.8)(1440,45.8)
};
\addlegendimage{color=crimson, line width=2.2pt}
\addlegendentry{dB(Z)}
\addlegendimage{color=darkorange, line width=2.2pt}
\addlegendentry{dB(C)}
\addlegendimage{color=gold, line width=2.2pt}
\addlegendentry{dB(A)}
\end{axis}
\begin{axis}[rightax, at={(0.59in,5.55in)}, anchor=north west]
\addplot[draw=none, forget plot] coordinates {(0,60)};
\end{axis}
\end{tikzpicture}
\end{document}
